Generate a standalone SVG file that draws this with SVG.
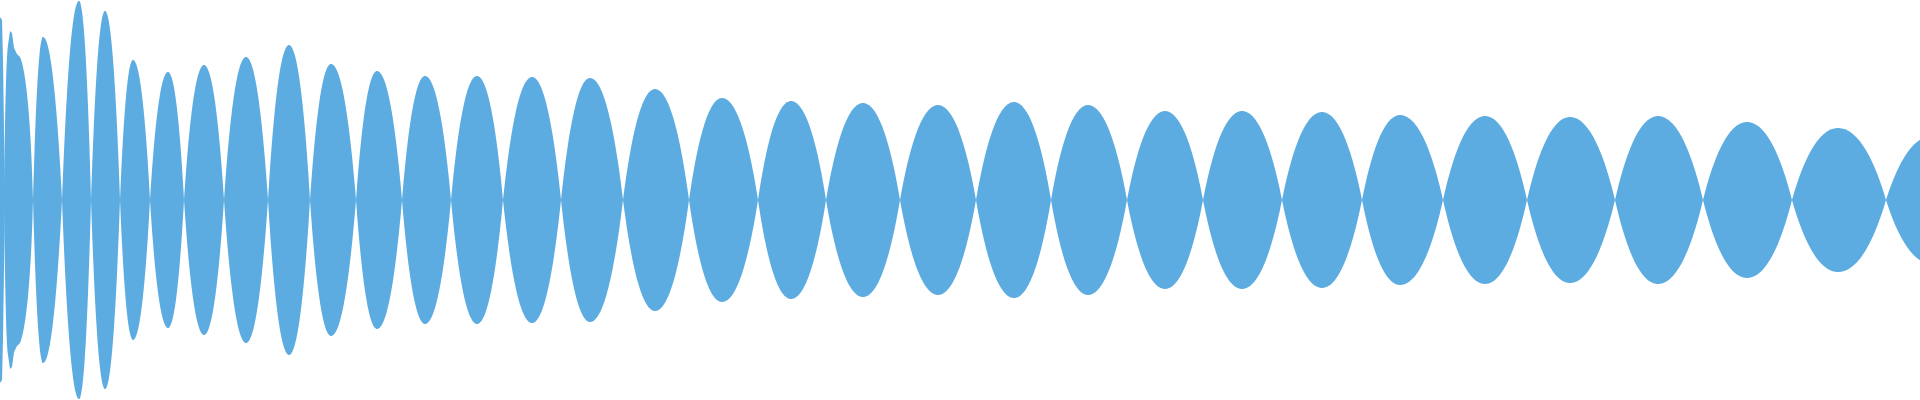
<svg xmlns="http://www.w3.org/2000/svg" width="1920" height="400" viewBox="0 0 1920 400">
<style>.w{fill:#5DACE1}</style>
<defs><path id="h" d="M-0.03,-1 L0,-1 C0.45,-1 0.78,-0.5 1,0 C0.78,0.5 0.45,1 0,1 L-0.03,1Z"/></defs>
<rect width="1920" height="400" fill="#fff"/>
<g id="waveform" class="w">
<path d="M0,17 L2,20 L3,60 L5,200 L3,340 L2,380 L0,383Z"/>
<path d="M4,200 C5,120 6,60 8,45 L10,31 L12,33 L14,48 L17,54 L20,57 C26,70 31,120 33,200 C31,280 26,330 20,343 L17,346 L14,352 L12,367 L10,369 L8,355 C6,340 5,280 4,200Z"/>
<use href="#h" transform="translate(43,200) scale(-10,163)"/><use href="#h" transform="translate(43,200) scale(19,163)"/>
<use href="#h" transform="translate(79,200) scale(-17,199)"/><use href="#h" transform="translate(79,200) scale(12,199)"/>
<use href="#h" transform="translate(105,200) scale(-14,189)"/><use href="#h" transform="translate(105,200) scale(15,189)"/>
<use href="#h" transform="translate(133,200) scale(-13,140)"/><use href="#h" transform="translate(133,200) scale(17,140)"/>
<use href="#h" transform="translate(168,200) scale(-18,128)"/><use href="#h" transform="translate(168,200) scale(16,128)"/>
<use href="#h" transform="translate(204,200) scale(-20,135)"/><use href="#h" transform="translate(204,200) scale(20,135)"/>
<use href="#h" transform="translate(246,200) scale(-22,143)"/><use href="#h" transform="translate(246,200) scale(22,143)"/>
<use href="#h" transform="translate(289,200) scale(-21,155)"/><use href="#h" transform="translate(289,200) scale(21,155)"/>
<use href="#h" transform="translate(331,200) scale(-21,136)"/><use href="#h" transform="translate(331,200) scale(25,136)"/>
<use href="#h" transform="translate(377,200) scale(-21,129)"/><use href="#h" transform="translate(377,200) scale(25,129)"/>
<use href="#h" transform="translate(425,200) scale(-23,124)"/><use href="#h" transform="translate(425,200) scale(26,124)"/>
<use href="#h" transform="translate(477,200) scale(-26,124)"/><use href="#h" transform="translate(477,200) scale(26,124)"/>
<use href="#h" transform="translate(532,200) scale(-29,123)"/><use href="#h" transform="translate(532,200) scale(29,123)"/>
<use href="#h" transform="translate(590,200) scale(-29,122)"/><use href="#h" transform="translate(590,200) scale(33,122)"/>
<use href="#h" transform="translate(655,200) scale(-32,111)"/><use href="#h" transform="translate(655,200) scale(34,111)"/>
<use href="#h" transform="translate(722,200) scale(-33,102)"/><use href="#h" transform="translate(722,200) scale(36,102)"/>
<use href="#h" transform="translate(791,200) scale(-33,99)"/><use href="#h" transform="translate(791,200) scale(35,99)"/>
<use href="#h" transform="translate(863,200) scale(-37,97)"/><use href="#h" transform="translate(863,200) scale(37,97)"/>
<use href="#h" transform="translate(938,200) scale(-38,95)"/><use href="#h" transform="translate(938,200) scale(38,95)"/>
<use href="#h" transform="translate(1014,200) scale(-38,98)"/><use href="#h" transform="translate(1014,200) scale(37,98)"/>
<use href="#h" transform="translate(1088,200) scale(-37,95)"/><use href="#h" transform="translate(1088,200) scale(39,95)"/>
<use href="#h" transform="translate(1165,200) scale(-38,89)"/><use href="#h" transform="translate(1165,200) scale(38,89)"/>
<use href="#h" transform="translate(1242,200) scale(-39,89)"/><use href="#h" transform="translate(1242,200) scale(40,89)"/>
<use href="#h" transform="translate(1322,200) scale(-40,88)"/><use href="#h" transform="translate(1322,200) scale(40,88)"/>
<use href="#h" transform="translate(1400,200) scale(-38,85)"/><use href="#h" transform="translate(1400,200) scale(43,85)"/>
<use href="#h" transform="translate(1485,200) scale(-42,84)"/><use href="#h" transform="translate(1485,200) scale(42,84)"/>
<use href="#h" transform="translate(1570,200) scale(-43,83)"/><use href="#h" transform="translate(1570,200) scale(45,83)"/>
<use href="#h" transform="translate(1658,200) scale(-43,84)"/><use href="#h" transform="translate(1658,200) scale(45,84)"/>
<use href="#h" transform="translate(1747,200) scale(-44,78)"/><use href="#h" transform="translate(1747,200) scale(45,78)"/>
<use href="#h" transform="translate(1838,200) scale(-46,72)"/><use href="#h" transform="translate(1838,200) scale(48,72)"/>
<use href="#h" transform="translate(1932,200) scale(-46,64)"/><use href="#h" transform="translate(1932,200) scale(46,64)"/>
</g>
</svg>
